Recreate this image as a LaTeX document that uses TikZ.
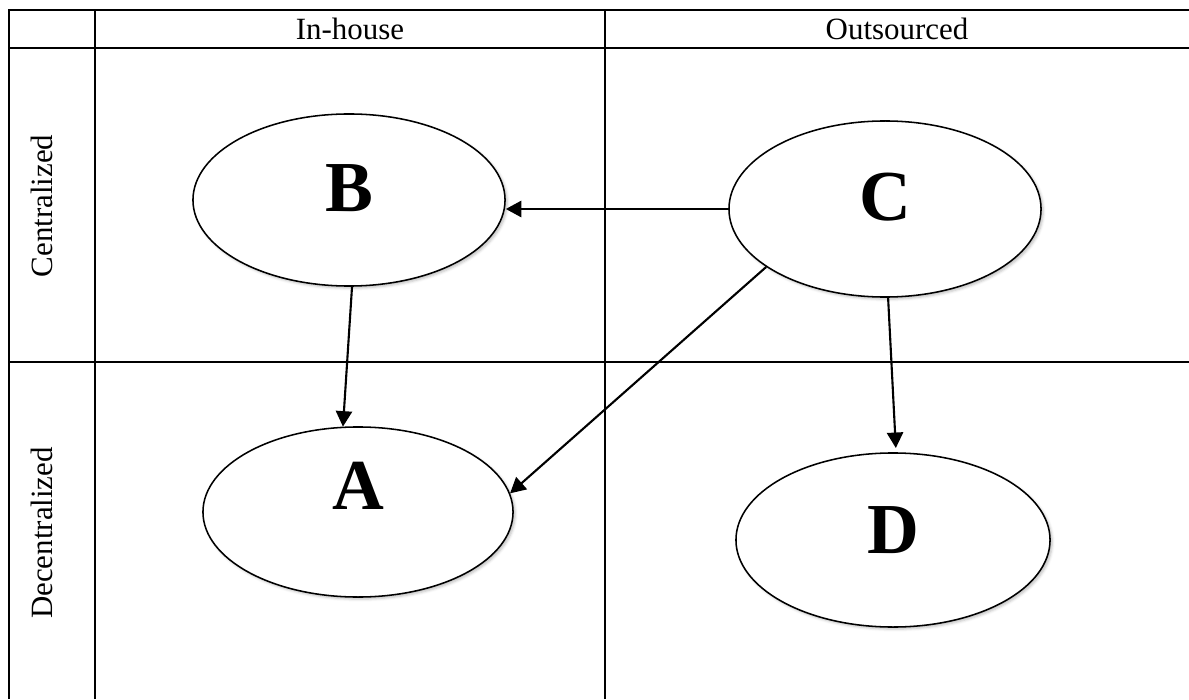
\documentclass[tikz,border=0pt]{standalone}
\usepackage{fontspec}
\setmainfont{Liberation Serif}
\usetikzlibrary{arrows.meta,shapes.geometric,shadows.blur}

\begin{document}
\begin{tikzpicture}[x=0.025cm,y=0.025cm,
  grid/.style={line width=1.6pt},
  blob/.style={ellipse,draw,line width=1.1pt,fill=white,inner sep=0pt,
    blur shadow={shadow xshift=1.5pt,shadow yshift=-1.5pt,shadow opacity=25},
    font=\fontsize{51}{51}\selectfont\bfseries,text depth=0.6cm},
  link/.style={-{Triangle[length=11pt,width=11.5pt]},line width=1.5pt},
  lbl/.style={font=\fontsize{22}{22}\selectfont,inner sep=0pt}]

  \useasboundingbox (0,0) rectangle (1189,699);

  % table lines
  \draw[grid] (9,0) -- (9,689) -- (1189,689);
  \draw[grid] (9,651) -- (1189,651);
  \draw[grid] (9,337) -- (1189,337);
  \draw[grid] (95,0) -- (95,689);
  \draw[grid] (605,0) -- (605,689);

  % headers
  \node[lbl] (inhouse) at (350,670) {In-house};
  \node[lbl] (outsrc) at (897,670) {Outsourced};
  \node[lbl,rotate=90] (central) at (42,493) {Centralized};
  \node[lbl,rotate=90] (decentral) at (42,166) {Decentralized};

  % cells
  \node[blob,minimum width=7.8cm,minimum height=4.3cm] (B) at (349,499) {B};
  \node[blob,minimum width=7.8cm,minimum height=4.4cm] (C) at (885,490) {C};
  \node[blob,minimum width=7.75cm,minimum height=4.25cm,text depth=1.3cm] (A) at (358,187) {A};
  \node[blob,minimum width=7.85cm,minimum height=4.35cm,text depth=0.5cm] (D) at (893,159) {D};

  \draw[link] (C.west) -- (C.west -| B.east);
  \draw[link] (B.272) -- (A.100);
  \draw[link] (C.206) -- (A.7);
  \draw[link,shorten >=3pt] (C.272) -- (D.88);
\end{tikzpicture}
\end{document}
